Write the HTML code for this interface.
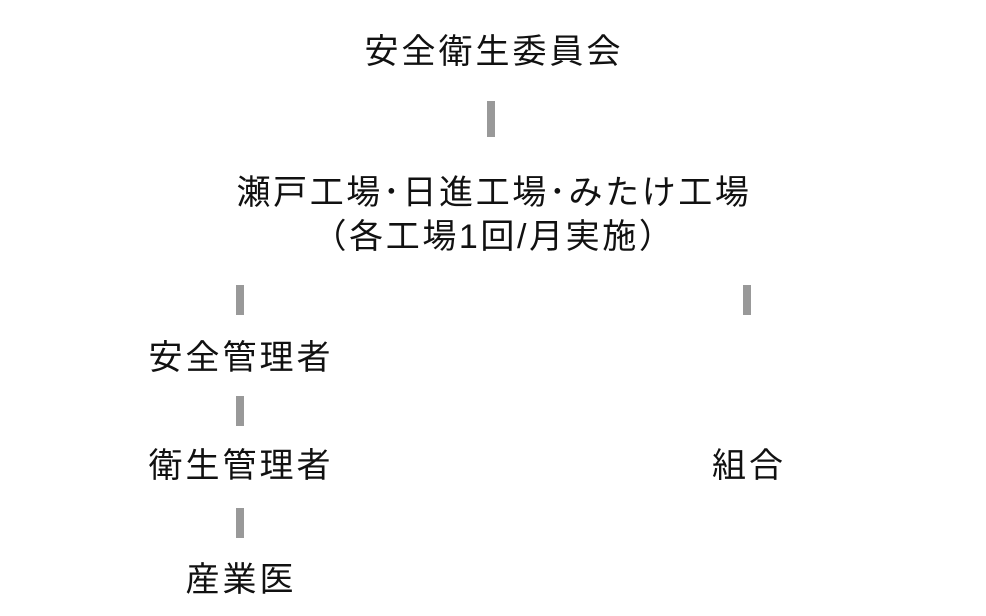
<!DOCTYPE html>
<html><head><meta charset="utf-8"><style>
body{margin:0;width:986px;height:616px;background:#fff;position:relative;overflow:hidden;font-family:"Liberation Sans","Noto Sans CJK JP",sans-serif;color:#111}
.t{position:absolute;font-size:34px;line-height:44px;white-space:nowrap;text-align:center;letter-spacing:3px;transform:translateX(-50%)}
.b{position:absolute;width:8px;background:#999}
</style></head><body>
<div class="t" style="left:494px;top:30px">安全衛生委員会</div>
<div class="b" style="left:487px;top:101px;height:36px"></div>
<div class="t" style="left:494px;top:171px;letter-spacing:2.6px">瀬戸工場･日進工場･みたけ工場<br>（各工場1回/月実施）</div>
<div class="b" style="left:236px;top:285px;height:30px"></div>
<div class="b" style="left:743px;top:285px;height:30px"></div>
<div class="t" style="left:241px;top:336px">安全管理者</div>
<div class="b" style="left:236px;top:396px;height:30px"></div>
<div class="t" style="left:241px;top:444px">衛生管理者</div>
<div class="t" style="left:749px;top:444px">組合</div>
<div class="b" style="left:236px;top:508px;height:30px"></div>
<div class="t" style="left:241px;top:558px">産業医</div>
</body></html>
